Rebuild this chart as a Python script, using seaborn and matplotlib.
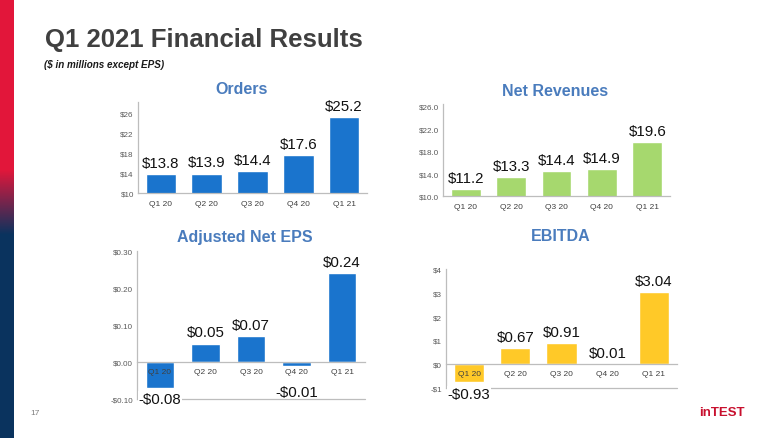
import matplotlib
matplotlib.use('Agg')
import matplotlib.pyplot as plt
import seaborn as sns
import numpy as np

# ---------------- data ----------------
quarters = ['Q1 20', 'Q2 20', 'Q3 20', 'Q4 20', 'Q1 21']

orders = [13.8, 13.9, 14.4, 17.6, 25.2]
orders_labels = ['$13.8', '$13.9', '$14.4', '$17.6', '$25.2']
orders_ticks = [10, 14, 18, 22, 26]

revenues = [11.2, 13.3, 14.4, 14.9, 19.6]
revenues_labels = ['$11.2', '$13.3', '$14.4', '$14.9', '$19.6']
revenues_ticks = [10, 14, 18, 22, 26]

eps = [-0.07, 0.05, 0.07, -0.01, 0.24]
eps_labels = ['-$0.08', '$0.05', '$0.07', '-$0.01', '$0.24']
eps_ticks = [-0.10, 0.00, 0.10, 0.20, 0.30]

ebitda = [-0.73, 0.67, 0.91, 0.01, 3.04]
ebitda_labels = ['-$0.93', '$0.67', '$0.91', '$0.01', '$3.04']
ebitda_ticks = [-1, 0, 1, 2, 3, 4]

# ---------------- style ----------------
sns.set_style('white')
plt.rcParams['font.family'] = ['Liberation Sans', 'DejaVu Sans']

W, H = 780, 439
fig = plt.figure(figsize=(W / 100, H / 100), dpi=100)
fig.patch.set_facecolor('white')

BLUE = '#1a74cd'
GREEN = '#a6d86e'
YELLOW = '#ffc928'
TITLE_BLUE = '#4a7cbd'
AXIS_GREY = '#bdbdbd'


def money(decimals):
    def f(v):
        sign = '-' if v < -1e-9 else ''
        return f'{sign}${abs(v):.{decimals}f}'
    return f


def rect_px(x0, y_top, x1, y_bot):
    return [x0 / W, 1 - y_bot / H, (x1 - x0) / W, (y_bot - y_top) / H]


def panel(rect, values, labels, ticks, fmt, ylim, color, width, title, title_xy, zero_axis, xpad):
    ax = fig.add_axes(rect)
    sns.barplot(x=quarters, y=values, order=quarters, color=color, saturation=1,
                width=width, ax=ax, zorder=1)
    ax.set_axisbelow(False)
    ax.set_xlim(-0.5, 4.5)
    ax.set_ylim(*ylim)
    ax.set_yticks(ticks)
    ax.set_yticklabels([fmt(t) for t in ticks])
    ax.set_xlabel('')
    ax.set_ylabel('')
    for s in ['top', 'right']:
        ax.spines[s].set_visible(False)
    for s in ['left', 'bottom']:
        ax.spines[s].set_color(AXIS_GREY)
        ax.spines[s].set_linewidth(0.9)
    ax.tick_params(axis='both', length=0)
    ax.tick_params(axis='y', labelsize=5.8, colors='#595959', pad=3)
    ax.tick_params(axis='x', labelsize=6, colors='#404040', pad=xpad)
    ax.set_facecolor('none')
    ax.grid(False)

    h_px = rect[3] * H
    ppu = h_px / (ylim[1] - ylim[0])
    if zero_axis:
        ax.spines['bottom'].set_position(('data', 0))
        ax.axhline(ylim[0], color=AXIS_GREY, lw=0.9, clip_on=False, zorder=0.5)
    bottom_px = abs(ylim[0]) * ppu
    for i, (v, lbl) in enumerate(zip(values, labels)):
        if v >= 0:
            ax.annotate(lbl, xy=(i, v), xytext=(0, 11 * 0.72), textcoords='offset points',
                        ha='center', va='center', fontsize=10.8, color='#111111',
                        annotation_clip=False, zorder=5)
        else:
            off = max(abs(v) * ppu + 11, 30)
            kw = {}
            if abs(off - bottom_px) < 7:
                kw['bbox'] = dict(fc='white', ec='none', pad=0.6)
            ax.annotate(lbl, xy=(i, 0), xytext=(0, -off * 0.72), textcoords='offset points',
                        ha='center', va='center', fontsize=10.8, color='#111111',
                        annotation_clip=False, zorder=5, **kw)
    fig.text(title_xy[0] / W, 1 - title_xy[1] / H, title, ha='center', va='center',
             fontsize=11.5, fontweight='bold', color=TITLE_BLUE)
    return ax


panel(rect_px(138, 103, 367, 194), orders, orders_labels, orders_ticks, money(0),
      (10, 28.2), BLUE, 0.67, 'Orders', (242, 89), False, 5.4)
panel(rect_px(443, 105, 670, 197), revenues, revenues_labels, revenues_ticks, money(1),
      (10, 26.4), GREEN, 0.66, 'Net Revenues', (555, 91), False, 5.4)
panel(rect_px(137, 252, 365, 400), eps, eps_labels, eps_ticks, money(2),
      (-0.10, 0.30), BLUE, 0.62, 'Adjusted Net EPS', (245, 238), True, 4)
panel(rect_px(446, 270, 677, 389), ebitda, ebitda_labels, ebitda_ticks, money(0),
      (-1, 4), YELLOW, 0.65, 'EBITDA', (561, 237), True, 4.3)

# ---------------- page decorations ----------------
ax_s = fig.add_axes([0, 0, 14 / W, 1])
red = np.array([0.89, 0.09, 0.23])
navy = np.array([0.04, 0.20, 0.37])
rows = np.arange(H)
t = np.clip((rows - 170) / 65.0, 0, 1)[:, None]
grad = (red * (1 - t) + navy * t)[:, None, :]
ax_s.imshow(grad, aspect='auto', extent=(0, 1, H, 0))
ax_s.set_axis_off()

fig.text(45 / W, 1 - 46.5 / H, 'Q1 2021 Financial Results', ha='left', va='baseline',
         fontsize=18.5, fontweight='bold', color='#404040')
fig.text(44 / W, 1 - 65 / H, '($ in millions except EPS)', ha='left', va='center',
         fontsize=7.1, fontweight='bold', fontstyle='italic', color='#1a1a1a')
fig.text(35 / W, 1 - 414 / H, '17', ha='center', va='center', fontsize=6, color='#7f7f7f')
fig.text(722 / W, 1 - 413 / H, 'inTEST', ha='center', va='center', fontsize=9.5,
         fontweight='bold', color='#c8102e',
         family=['Liberation Sans Narrow', 'Liberation Sans', 'DejaVu Sans'])

fig.savefig('out.png', dpi=100, facecolor='white')
